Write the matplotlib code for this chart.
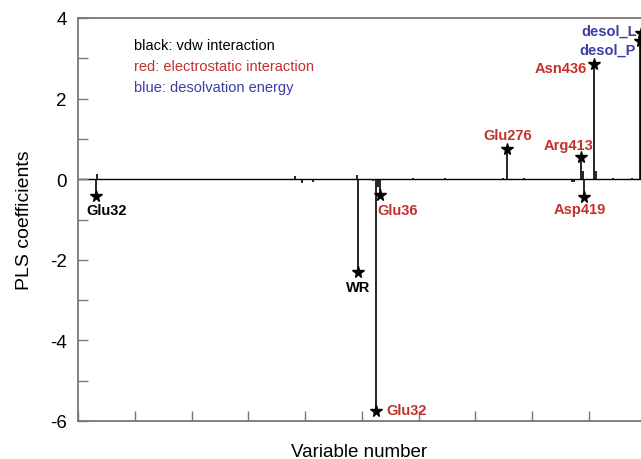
import numpy as np
import matplotlib
matplotlib.use("Agg")
import matplotlib.pyplot as plt
from matplotlib.ticker import MultipleLocator

plt.rcParams['font.family'] = ['Liberation Sans', 'DejaVu Sans']
plt.rcParams['axes.unicode_minus'] = False

# PLS coefficient for each variable (variable number, value)
var_num = [16, 17, 191, 197, 207, 246, 247, 255, 260, 262, 264, 266,
           295, 305, 323, 332, 356, 374, 378, 393, 423, 435, 437,
           443, 445, 446, 454, 456, 471, 480, 488, 495, 496]
coef = [-0.42, 0.12, 0.08, -0.1, -0.08, 0.1, -2.31, -0.03, -0.05, -5.75, -0.2, -0.4,
        0.03, -0.03, 0.02, -0.03, -0.03, 0.02, 0.75, 0.03, -0.03, -0.06, -0.08,
        0.55, 0.2, -0.45, 2.86, 0.2, 0.02, -0.02, 0.02, 3.43, 3.63]

# labelled variables
lab_names = ['Glu32', 'WR', 'Glu32', 'Glu36', 'Glu276', 'Arg413', 'Asp419',
             'Asn436', 'desol_P', 'desol_L']
lab_var = [16, 247, 262, 266, 378, 443, 446, 454, 495, 496]
lab_val = [-0.42, -2.31, -5.75, -0.4, 0.75, 0.55, -0.45, 2.86, 3.43, 3.63]
lab_kind = ['vdw', 'vdw', 'ele', 'ele', 'ele', 'ele', 'ele', 'ele', 'desol', 'desol']

legend_lines = ['black: vdw interaction', 'red: electrostatic interaction',
                'blue: desolvation energy']
legend_kind = ['vdw', 'ele', 'desol']

kind_color = {'vdw': 'black', 'ele': '#c3302c', 'desol': '#3b3fa6'}
# label offsets in pixels and alignment
lab_off = [(10, -14), (0, -15), (11, 1), (-3, -15), (0, 14), (-13, 12), (-5, -12),
           (-7, -4), (-4, -9), (-4, 2)]
lab_ha = ['center', 'center', 'left', 'left', 'center', 'center', 'center',
          'right', 'right', 'right']

fig = plt.figure(figsize=(6.41, 4.6), dpi=100)
ax = fig.add_axes([78 / 641, 38 / 460, 563 / 641, 403 / 460])

ax.axhline(0, color='black', lw=1.0, zorder=1)
ax.vlines(var_num, 0, coef, color='black', lw=1.2, zorder=2)
ax.plot(lab_var, lab_val, '*', color='black', ms=8.5, zorder=3)

for name, v, y, k, off, ha in zip(lab_names, lab_var, lab_val, lab_kind, lab_off, lab_ha):
    ax.annotate(name, (v, y), xytext=off, textcoords='offset pixels',
                ha=ha, va='center', fontsize=10.5, fontweight='bold',
                color=kind_color[k], annotation_clip=False)

for i, (txt, k) in enumerate(zip(legend_lines, legend_kind)):
    fig.text(134 / 641, 1 - (46 + 21 * i) / 460, txt, color=kind_color[k],
             fontsize=10.5, va='center')

ax.set_xlim(0, 495.8)
ax.set_ylim(-6, 4)
ax.xaxis.set_major_locator(MultipleLocator(50))
ax.set_xticklabels([])
ax.yaxis.set_major_locator(MultipleLocator(2))
ax.yaxis.set_minor_locator(MultipleLocator(1))
ax.tick_params(axis='both', which='both', direction='in', length=7, width=1,
               color='#777777', labelsize=13.5)
ax.tick_params(axis='y', pad=8)
ax.tick_params(top=False, right=False)

for s in ['left', 'bottom', 'top']:
    ax.spines[s].set_color('#777777')
    ax.spines[s].set_linewidth(1.3)
ax.spines['right'].set_visible(False)

ax.set_xlabel('Variable number', fontsize=13.5, labelpad=12)
ax.set_ylabel('PLS coefficients', fontsize=14, labelpad=12)

fig.savefig('out.png', dpi=100)
